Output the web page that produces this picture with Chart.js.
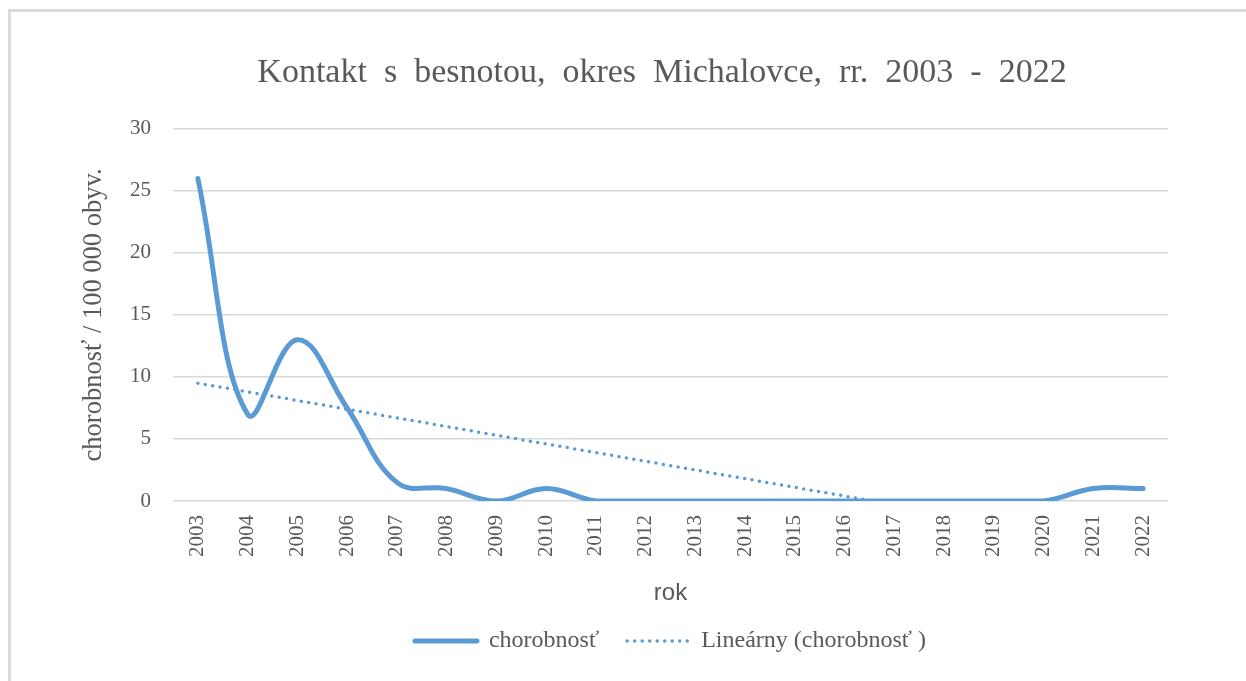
<!DOCTYPE html>
<html>
<head>
<meta charset="utf-8">
<script src="https://cdn.jsdelivr.net/npm/chart.js@4/dist/chart.umd.min.js"></script>
<style>
    html, body { margin: 0; padding: 0; background: #fff; overflow: hidden; }
    #wrap { position: relative; width: 1246px; height: 681px; }
    #frame {
        position: absolute; left: 8px; top: 9px; right: -10px; bottom: -10px;
        border-top: 3px solid #d9d9d9; border-left: 3px solid #d9d9d9;
    }
    canvas { position: absolute; left: 0; top: 0; }
</style>
</head>
<body>
<div id="wrap">
    <div id="frame"></div>
    <canvas id="canvas" width="1246" height="681"></canvas>
</div>
<script>
    'use strict';

    // data
    var years = ['2003', '2004', '2005', '2006', '2007', '2008', '2009', '2010', '2011', '2012',
        '2013', '2014', '2015', '2016', '2017', '2018', '2019', '2020', '2021', '2022'];
    var chorobnost = [26, 7, 13, 7.5, 1.5, 1, 0, 1, 0, 0,
        0, 0, 0, 0, 0, 0, 0, 0, 1, 1];
    // linear trend, only the two end points (it runs below 0 and is cut at the axis)
    var trend = [9.5, null, null, null, null, null, null, null, null, null,
        null, null, null, null, null, null, null, null, null, -3.8];
    var yTicks = [0, 5, 10, 15, 20, 25, 30];

    var BLUE = '#5b9bd5';
    var TEXT = '#595959';
    var SERIF = '"Liberation Serif", "Times New Roman", serif';
    var SANS = '"Liberation Sans", Arial, sans-serif';

    // legend items take dash / width from the dataset line, not from the point
    function legendLabels(chart) {
        var items = Chart.defaults.plugins.legend.labels.generateLabels(chart);
        items.forEach(function (item) {
            var ds = chart.data.datasets[item.datasetIndex];
            item.lineDash = ds.borderDash || [];
            item.lineWidth = ds.borderWidth;
            item.lineCap = ds.borderCapStyle;
            item.strokeStyle = ds.borderColor;
        });
        return items;
    }

    var ctx = document.getElementById('canvas').getContext('2d');
    window.myChart = new Chart(ctx, {
        type: 'line',
        data: {
            labels: years,
            datasets: [{
                label: 'chorobnosť',
                data: chorobnost,
                borderColor: BLUE,
                backgroundColor: BLUE,
                borderWidth: 5,
                tension: 0.4,
                pointRadius: 0,
                borderCapStyle: 'round',
                fill: false
            },
            {
                label: 'Lineárny (chorobnosť )',
                data: trend,
                borderColor: BLUE,
                backgroundColor: BLUE,
                borderWidth: 3.5,
                borderDash: [0, 7.5],
                borderCapStyle: 'round',
                tension: 0,
                spanGaps: true,
                pointRadius: 0,
                clip: 0,
                fill: false
            }]
        },
        options: {
            responsive: false,
            animation: false,
            layout: { padding: { left: 78, right: 0, top: 0, bottom: 18 } },
            plugins: {
                title: {
                    display: true,
                    text: 'Kontakt  s  besnotou,  okres  Michalovce,  rr.  2003  -  2022',
                    color: TEXT,
                    font: { family: SERIF, size: 34, weight: 'normal' },
                    padding: { top: 53, bottom: 35 }
                },
                legend: {
                    position: 'bottom',
                    fullSize: false,
                    labels: {
                        color: TEXT,
                        font: { family: SERIF, size: 24 },
                        usePointStyle: true,
                        pointStyle: 'line',
                        pointStyleWidth: 62,
                        boxHeight: 5,
                        padding: 28,
                        generateLabels: legendLabels
                    }
                },
                tooltip: { enabled: false }
            },
            scales: {
                x: {
                    offset: true,
                    grid: { display: false },
                    border: { display: false },
                    ticks: {
                        color: TEXT,
                        font: { family: SERIF, size: 21 },
                        minRotation: 90,
                        maxRotation: 90,
                        padding: 6
                    },
                    title: {
                        display: true,
                        text: 'rok',
                        color: TEXT,
                        font: { family: SANS, size: 24 },
                        padding: { top: 0, bottom: -7 }
                    },
                    afterFit: function (scale) { scale.height = 100; }
                },
                y: {
                    min: 0,
                    max: 30,
                    afterBuildTicks: function (scale) {
                        scale.ticks = yTicks.map(function (v) { return { value: v }; });
                    },
                    grid: { color: '#d9d9d9', lineWidth: 1.5, drawTicks: false },
                    border: { display: false },
                    ticks: {
                        color: TEXT,
                        font: { family: SERIF, size: 21 },
                        padding: 22
                    },
                    title: {
                        display: true,
                        text: 'chorobnosť / 100 000 obyv.',
                        color: TEXT,
                        font: { family: SERIF, size: 26.5 },
                        padding: { top: 0, bottom: 0 }
                    },
                    afterFit: function (scale) { scale.width = 95; }
                },
                yRight: {
                    position: 'right',
                    grid: { display: false },
                    border: { display: false },
                    ticks: { display: false },
                    afterFit: function (scale) { scale.width = 78; }
                }
            }
        }
    });
</script>
</body>
</html>
